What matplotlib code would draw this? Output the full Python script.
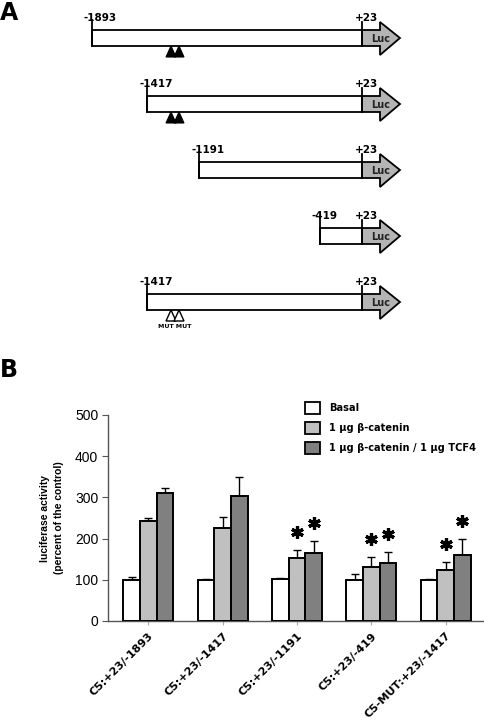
import matplotlib
matplotlib.use("Agg")
import matplotlib.pyplot as plt
import matplotlib.transforms as mtransforms
from matplotlib.patches import Rectangle, Polygon, Patch
import numpy as np

# ---- panel A: promoter constructs ----
construct_starts = ['-1893', '-1417', '-1191', '-419', '-1417']
construct_end = '+23'
tcf_sites = ['filled', 'filled', None, None, 'open']   # TCF sites shown under the box

# ---- panel B: luciferase data ----
groups = ['C5:+23/-1893', 'C5:+23/-1417', 'C5:+23/-1191', 'C5:+23/-419', 'C5-MUT:+23/-1417']
series = ['Basal', '1 \u03bcg \u03b2-catenin', '1 \u03bcg \u03b2-catenin / 1 \u03bcg TCF4']
basal = [100, 100, 102, 100, 100]
basal_err = [6, 3, 2, 13, 3]
bcat = [243, 225, 152, 132, 124]
bcat_err = [6, 27, 20, 23, 19]
bcat_tcf = [311, 303, 166, 140, 160]
bcat_tcf_err = [13, 46, 27, 28, 38]
sig_bcat = [False, False, True, True, True]
sig_bcat_tcf = [False, False, True, True, True]

W, H = 484, 726
fig = plt.figure(figsize=(W / 100, H / 100), dpi=100)

# schematic drawn in pixel-like units on a background axes
ax_a = fig.add_axes([0, 0, 1, 1])
ax_a.set_xlim(0, W)
ax_a.set_ylim(H, 0)
ax_a.axis('off')

start_x = {'-1893': 92, '-1417': 147, '-1191': 199, '-419': 320}  # schematic, not to scale
end_x = 362
lw = 1.3
for i, (s, site) in enumerate(zip(construct_starts, tcf_sites)):
    y0 = 30 + 66 * i
    xs = start_x[s]
    ax_a.add_patch(Rectangle((xs, y0), end_x - xs, 16, fc='white', ec='black', lw=lw))
    ax_a.plot([xs, xs], [y0 - 10, y0 + 16], color='black', lw=lw)
    # Luc arrow
    pts = [(end_x, y0), (380, y0), (380, y0 - 8), (400, y0 + 8), (380, y0 + 25),
           (380, y0 + 16), (end_x, y0 + 16)]
    ax_a.add_patch(Polygon(pts, closed=True, fc='#b4b4b4', ec='black', lw=lw, joinstyle='miter'))
    ax_a.plot([end_x, end_x], [y0 - 8, y0 + 16], color='black', lw=lw)
    ax_a.text(381, y0 + 8.5, 'Luc', fontsize=7, fontweight='bold', ha='center', va='center',
              color='#222222')
    ax_a.text(xs - 8, y0 - 7, s, fontsize=7.5, fontweight='bold', ha='left', va='bottom')
    ax_a.text(end_x - 7, y0 - 7, construct_end, fontsize=7.5, fontweight='bold', ha='left',
              va='bottom')
    if site is not None:
        for cx in (171, 179):
            tri = [(cx - 5, y0 + 27), (cx + 5, y0 + 27), (cx, y0 + 16)]
            if site == 'filled':
                ax_a.add_patch(Polygon(tri, closed=True, fc='black', ec='black', lw=0.8))
            else:
                ax_a.add_patch(Polygon(tri, closed=True, fc='white', ec='black', lw=1.0))
        if site == 'open':
            ax_a.text(175, y0 + 33, 'MUT MUT', fontsize=4.5, fontweight='bold',
                      ha='center', va='center')

fig.text(0.0, 1 - 13 / H, 'A', fontsize=17, fontweight='bold', va='center', ha='left')
fig.text(0.0, 1 - 370 / H, 'B', fontsize=17, fontweight='bold', va='center', ha='left')

# ---- bar chart ----
ax = fig.add_axes([108 / W, 1 - 621 / H, (483 - 108) / W, (621 - 415) / H])
x = np.arange(len(groups))
width = 0.224
colors = ['white', '#c0c0c0', '#808080']
vals = [basal, bcat, bcat_tcf]
errs = [basal_err, bcat_err, bcat_tcf_err]
for k in range(3):
    pos = x + (k - 1) * width
    ax.bar(pos, vals[k], width, color=colors[k], edgecolor='black', linewidth=1.4, zorder=3,
           label=series[k])
    ax.errorbar(pos, vals[k], yerr=[np.zeros(len(x)), errs[k]], fmt='none', ecolor='black',
                elinewidth=1.0, capsize=3, capthick=1.0, zorder=2)

for k, sig in ((1, sig_bcat), (2, sig_bcat_tcf)):
    for i in range(len(groups)):
        if sig[i]:
            ax.plot(x[i] + (k - 1) * width, vals[k][i] + errs[k][i] + 44, marker=(6, 2, 0),
                    ms=9, mew=2.3, color='black', zorder=4)

ax.set_xlim(-0.54, 4.5)
ax.set_ylim(0, 500)
ax.set_yticks([0, 100, 200, 300, 400, 500])
ax.set_xticks(x)
ax.set_xticklabels(groups, rotation=45, ha='right', va='top', rotation_mode='anchor',
                   fontsize=8, fontweight='bold')
shift = mtransforms.ScaledTranslation(6 / 100, -6 / 100, fig.dpi_scale_trans)
for lab in ax.get_xticklabels():
    lab.set_transform(lab.get_transform() + shift)
for lab in ax.get_yticklabels():
    lab.set_fontfamily('Liberation Sans')
    lab.set_fontsize(10)
ax.tick_params(axis='y', length=4, color='#555555', pad=3)
ax.tick_params(axis='x', length=3, color='#aaaaaa', pad=4)
for sp in ('top', 'right'):
    ax.spines[sp].set_visible(False)
for sp in ('left', 'bottom'):
    ax.spines[sp].set_color('#555555')
    ax.spines[sp].set_linewidth(1.0)
ax.set_ylabel('luciferase activity\n(percent of the control)', fontsize=7.4, fontweight='bold',
              fontfamily='Liberation Sans', labelpad=8, linespacing=1.45)

handles = [Patch(facecolor=c, edgecolor='black', linewidth=1.3) for c in colors]
fig.legend(handles, series, loc='upper left', bbox_to_anchor=(302 / W, 1 - 399 / H),
           frameon=False, prop={'weight': 'bold', 'size': 7.1}, handlelength=1.5,
           handleheight=1.5, labelspacing=0.8, handletextpad=0.95, borderaxespad=0,
           borderpad=0.3)

fig.savefig('out.png', dpi=100)
